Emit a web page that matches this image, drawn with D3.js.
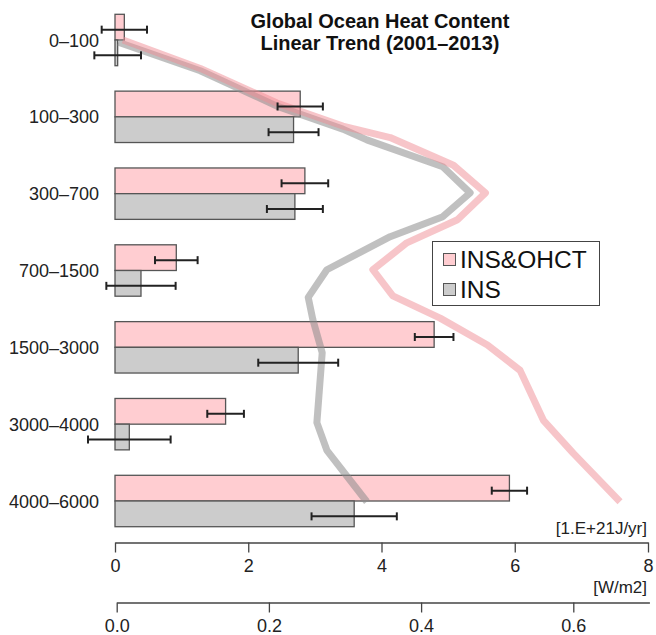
<!DOCTYPE html>
<html>
<head>
<meta charset="utf-8">
<script src="https://cdn.jsdelivr.net/npm/d3@7"></script>
<style>
  body { margin: 0; background: #fff; }
  svg { display: block; font-family: "Liberation Sans", Arial, Helvetica, sans-serif; }
</style>
</head>
<body>
<div id="chart"></div>
<script>
// depth layers (m)
const layers = ['0–100', '100–300', '300–700', '700–1500', '1500–3000', '3000–4000', '4000–6000'];

// trend per layer [1.E+21 J/yr] and error half-width
const insOhct = [0.14, 2.78, 2.85, 0.92, 4.79, 1.66, 5.92];
const insOhctErr = [0.34, 0.34, 0.35, 0.32, 0.29, 0.275, 0.265];
const ins = [0.04, 2.68, 2.70, 0.39, 2.75, 0.215, 3.59];
const insErr = [0.35, 0.375, 0.42, 0.52, 0.60, 0.62, 0.64];

// profile lines: x in J/yr units, y in layer-index units
const insOhctProfX = [0.12, 1.28, 2.43, 3.42, 4.13, 5.08, 5.56, 5.14, 4.38, 3.87, 4.17, 4.88, 5.59, 6.08, 6.43, 6.88, 7.58];
const insOhctProfY = [0.00, 0.37, 0.82, 1.12, 1.27, 1.63, 1.99, 2.34, 2.64, 2.99, 3.33, 3.62, 3.97, 4.30, 4.95, 5.38, 6.01];
const insProfX = [0.05, 1.28, 2.43, 3.42, 3.78, 4.92, 5.33, 4.92, 4.13, 3.18, 2.90, 2.97, 3.11, 3.03, 3.18, 3.78];
const insProfY = [0.03, 0.40, 0.86, 1.16, 1.30, 1.65, 1.99, 2.30, 2.56, 2.99, 3.35, 3.64, 4.07, 4.98, 5.34, 6.01];

const jTicks = [0, 2, 4, 6, 8];
const wTicks = [0.0, 0.2, 0.4, 0.6];

const width = 656, height = 635;
const pinkFill = '#ffcdd1', grayFill = '#cccccc';

const svg = d3.select('#chart').append('svg')
    .attr('width', width)
    .attr('height', height);

const x = d3.scaleLinear().domain([0, 8]).range([115, 648]);
const xW = d3.scaleLinear().domain([0, 0.7]).range([116.7, 649.4]);
const y = d3.scalePoint().domain(layers).range([40, 501]);
const yIdx = d3.scaleLinear().domain([0, layers.length - 1]).range([40, 501]);
const bh = 25.7;

// 제목
const title = svg.append('text')
    .attr('text-anchor', 'middle')
    .attr('font-weight', 'bold')
    .attr('font-size', 20)
    .attr('fill', '#111');
title.append('tspan').attr('x', 380).attr('y', 28).text('Global Ocean Heat Content');
title.append('tspan').attr('x', 380).attr('y', 50).text('Linear Trend (2001–2013)');

// 막대
const bars = svg.append('g').attr('stroke', '#555').attr('stroke-width', 1.3);
bars.selectAll('rect.pink')
    .data(layers)
    .join('rect')
    .attr('class', 'pink')
    .attr('x', x(0))
    .attr('y', d => y(d) - bh)
    .attr('width', (d, i) => x(insOhct[i]) - x(0))
    .attr('height', bh)
    .attr('fill', pinkFill);
bars.selectAll('rect.gray')
    .data(layers)
    .join('rect')
    .attr('class', 'gray')
    .attr('x', x(0))
    .attr('y', d => y(d))
    .attr('width', (d, i) => x(ins[i]) - x(0))
    .attr('height', bh)
    .attr('fill', grayFill);

// 프로파일 선
const line = d3.line().x(d => x(d[0])).y(d => yIdx(d[1]));
svg.append('path')
    .datum(insProfX.map((v, i) => [v, insProfY[i]]))
    .attr('d', line)
    .attr('fill', 'none')
    .attr('stroke', 'rgba(140,140,140,0.55)')
    .attr('stroke-width', 7)
    .attr('stroke-linejoin', 'round');
svg.append('path')
    .datum(insOhctProfX.map((v, i) => [v, insOhctProfY[i]]))
    .attr('d', line)
    .attr('fill', 'none')
    .attr('stroke', 'rgba(240,140,148,0.5)')
    .attr('stroke-width', 7)
    .attr('stroke-linejoin', 'round');

// 오차 막대
function errorBars(vals, errs, dy) {
    const g = svg.append('g').attr('stroke', '#222').attr('stroke-width', 2);
    layers.forEach((c, i) => {
        const yy = y(c) + dy;
        const x1 = x(vals[i] - errs[i]), x2 = x(vals[i] + errs[i]);
        g.append('line').attr('x1', x1).attr('x2', x2).attr('y1', yy).attr('y2', yy);
        g.append('line').attr('x1', x1).attr('x2', x1).attr('y1', yy - 4).attr('y2', yy + 4);
        g.append('line').attr('x1', x2).attr('x2', x2).attr('y1', yy - 4).attr('y2', yy + 4);
    });
}
errorBars(insOhct, insOhctErr, -bh / 2 + 2.5);
errorBars(ins, insErr, bh / 2 + 2.5);

// 카테고리 라벨
svg.append('g')
    .selectAll('text')
    .data(layers)
    .join('text')
    .attr('x', 99)
    .attr('y', d => y(d) + 6.5)
    .attr('text-anchor', 'end')
    .attr('font-size', 18)
    .attr('fill', '#222')
    .text(d => d);

// 범례
const lg = svg.append('g');
lg.append('rect')
    .attr('x', 432.5).attr('y', 241.5).attr('width', 167).attr('height', 64)
    .attr('fill', '#fff').attr('stroke', '#444').attr('stroke-width', 1);
[['INS&OHCT', pinkFill, 268], ['INS', grayFill, 298]].forEach(([label, col, by]) => {
    lg.append('rect')
        .attr('x', 443.5).attr('y', by - 14.5).attr('width', 12).attr('height', 12)
        .attr('fill', col).attr('stroke', '#555').attr('stroke-width', 1);
    lg.append('text')
        .attr('x', 460).attr('y', by)
        .attr('font-size', 24.5)
        .attr('fill', '#111')
        .text(label);
});

// 축
function drawAxis(scale, ticks, yPos, fmt) {
    const g = svg.append('g')
        .attr('transform', `translate(0,${yPos})`)
        .call(d3.axisBottom(scale).tickValues(ticks).tickFormat(fmt).tickSize(10).tickSizeOuter(0).tickPadding(7));
    g.select('.domain').attr('stroke', '#444').attr('stroke-width', 1.3);
    g.selectAll('.tick line').attr('stroke', '#444').attr('stroke-width', 1.3);
    g.selectAll('.tick text')
        .attr('font-size', 18)
        .attr('font-family', '"Liberation Sans", Arial, Helvetica, sans-serif')
        .attr('fill', '#222');
    return g;
}
drawAxis(x, jTicks, 542.5, d3.format('d'));
drawAxis(xW, wTicks, 602.5, d3.format('.1f'));

svg.append('text')
    .attr('x', 647).attr('y', 534)
    .attr('text-anchor', 'end')
    .attr('font-size', 17)
    .attr('fill', '#222')
    .text('[1.E+21J/yr]');
svg.append('text')
    .attr('x', 647).attr('y', 593)
    .attr('text-anchor', 'end')
    .attr('font-size', 17)
    .attr('fill', '#222')
    .text('[W/m2]');
</script>
</body>
</html>
